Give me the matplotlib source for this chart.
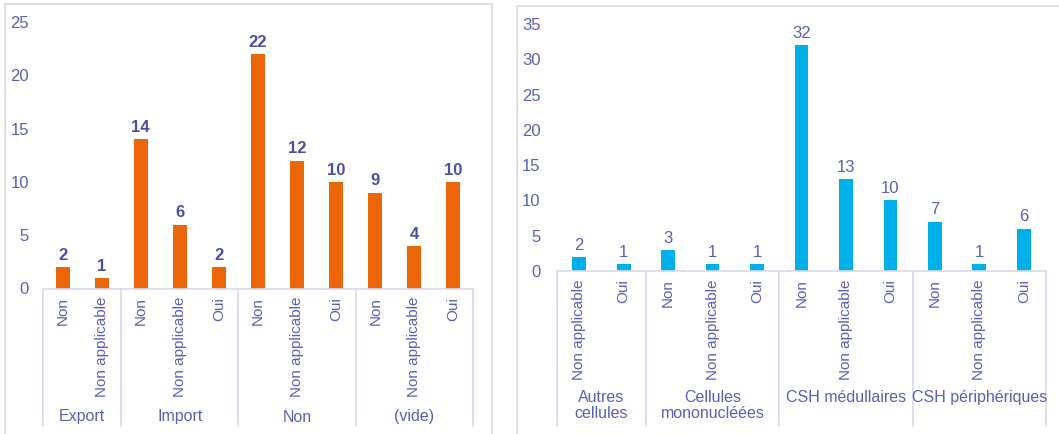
import matplotlib
matplotlib.use("Agg")
import matplotlib.pyplot as plt
from matplotlib.patches import Rectangle
from matplotlib.transforms import blended_transform_factory

# Left chart: type of exchange / answer
left_groups = ["Export", "Import", "Non", "(vide)"]
left_group_sizes = [2, 3, 3, 3]
left_cats = ["Non", "Non applicable",
             "Non", "Non applicable", "Oui",
             "Non", "Non applicable", "Oui",
             "Non", "Non applicable", "Oui"]
left_values = [2, 1, 14, 6, 2, 22, 12, 10, 9, 4, 10]
left_yticks = [0, 5, 10, 15, 20, 25]

# Right chart: cell product / answer
right_groups = ["Autres\ncellules", "Cellules\nmononucléées",
                "CSH médullaires", "CSH périphériques"]
right_group_sizes = [2, 3, 3, 3]
right_cats = ["Non applicable", "Oui",
              "Non", "Non applicable", "Oui",
              "Non", "Non applicable", "Oui",
              "Non", "Non applicable", "Oui"]
right_values = [2, 1, 3, 1, 1, 32, 13, 10, 7, 1, 6]
right_yticks = [0, 5, 10, 15, 20, 25, 30, 35]

W, H = 1059, 434
TEXT = "#5860B4"
LABEL_BOLD = "#4A4FA3"
LINE = "#D9D9EF"
FRAME = "#DADADA"
FONT = "Liberation Sans"

plt.rcParams["font.family"] = [FONT, "DejaVu Sans"]

fig = plt.figure(figsize=(W / 100, H / 100), dpi=100)


def fx(px):
    return px / W


def fy(py):
    return 1 - py / H


# panel frames
fig.patches.append(Rectangle((fx(5), fy(440)), fx(492 - 5), (440 - 4) / H,
                             transform=fig.transFigure, fill=False,
                             edgecolor=FRAME, linewidth=1.2))
fig.patches.append(Rectangle((fx(517), fy(440)), fx(1070 - 517), (440 - 6) / H,
                             transform=fig.transFigure, fill=False,
                             edgecolor=FRAME, linewidth=1.2))


def panel(x0, x1, y_top, y_zero, y_line_bottom, cats, values, groups, sizes,
          yticks, color, bar_width, bold_labels, group_y, group_va, tick_pad):
    ax = fig.add_axes([fx(x0), fy(y_zero), fx(x1 - x0), (y_zero - y_top) / H])
    pos = list(range(len(cats)))
    bars = ax.bar(pos, values, width=bar_width, color=color, zorder=2)
    ax.set_xlim(-0.5, len(cats) - 0.5)
    ax.set_ylim(yticks[0], yticks[-1])
    ax.set_yticks(yticks)
    ax.set_xticks(pos, cats, rotation=90)
    ax.tick_params(axis="y", length=0, pad=tick_pad, labelsize=12,
                   labelcolor=TEXT)
    ax.tick_params(axis="x", length=0, pad=6, labelsize=11,
                   labelcolor=TEXT)
    for s in ("top", "right", "left"):
        ax.spines[s].set_visible(False)
    ax.spines["bottom"].set_color(LINE)
    ax.spines["bottom"].set_linewidth(1.2)
    ax.set_facecolor("none")
    ax.bar_label(bars, padding=3, fontsize=12,
                 fontweight="bold" if bold_labels else "normal",
                 color=LABEL_BOLD if bold_labels else TEXT)

    # group separators below the axis
    trans = blended_transform_factory(ax.transData, fig.transFigure)
    edges = [-0.5]
    for n in sizes:
        edges.append(edges[-1] + n)
    for e in edges:
        ax.plot([e, e], [fy(y_zero), fy(y_line_bottom)], color=LINE,
                linewidth=1.2, transform=trans, clip_on=False)
    for g, a, b in zip(groups, edges[:-1], edges[1:]):
        ax.text((a + b) / 2, fy(group_y), g, transform=trans, ha="center",
                va=group_va, fontsize=11.5, color=TEXT, linespacing=1.05)
    return ax


panel(43, 473, 22, 288.5, 426, left_cats, left_values, left_groups,
      left_group_sizes, left_yticks, "#EB6608", 0.36, True, 417, "center", 10)
panel(557, 1046, 24, 271, 426, right_cats, right_values, right_groups,
      right_group_sizes, right_yticks, "#00B0E8", 0.31, False, 390, "top", 12)

fig.savefig("out.png", dpi=100)
